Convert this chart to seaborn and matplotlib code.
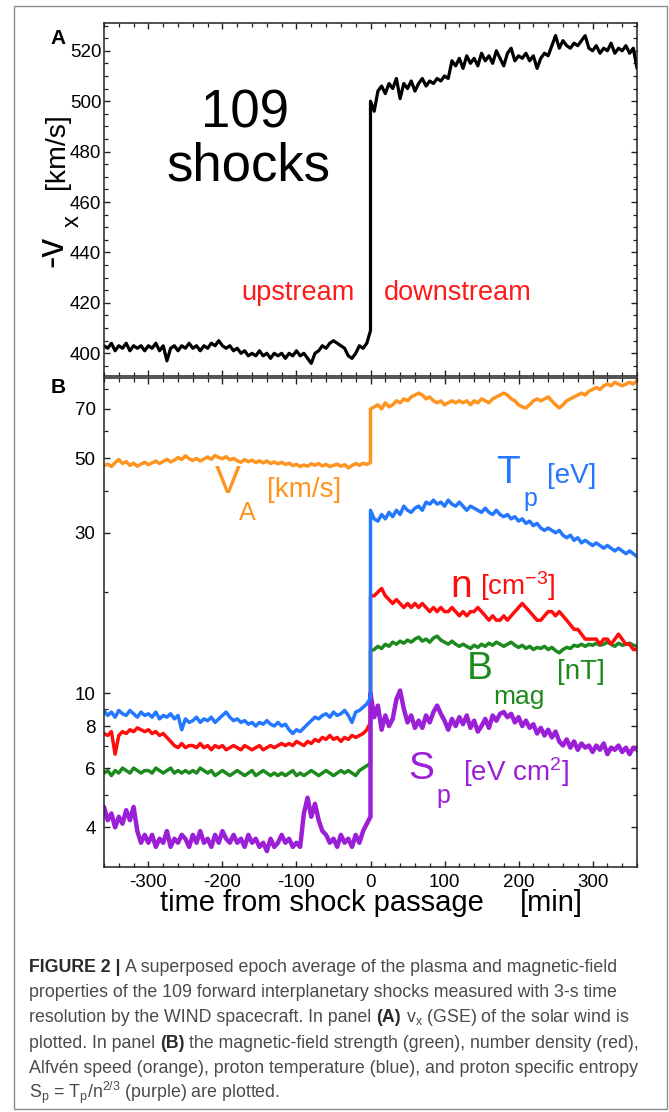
import numpy as np
import pandas as pd
import matplotlib
matplotlib.use("Agg")
import matplotlib.pyplot as plt
from matplotlib.patches import Rectangle
from matplotlib.ticker import MultipleLocator, FixedLocator, FixedFormatter, NullFormatter
import seaborn as sns

sns.set_theme(style="ticks")
plt.rcParams["font.family"] = ["Liberation Sans", "DejaVu Sans"]
plt.rcParams["text.color"] = "black"
plt.rcParams["mathtext.fontset"] = "custom"
plt.rcParams["mathtext.rm"] = "Liberation Sans"
plt.rcParams["mathtext.it"] = "Liberation Sans:italic"
plt.rcParams["mathtext.bf"] = "Liberation Sans:bold"
plt.rcParams["axes.unicode_minus"] = False

# -----------------------------
# time grid: 5-min samples upstream / downstream of the shock (t = 0)
# -----------------------------
t_up = np.arange(-360, 0, 5)
t_down = np.arange(5, 365, 5)

# panel A: -vx [km/s]
vx_up = [403, 402, 404, 401, 403, 402, 404, 401, 403, 402, 403, 401,
         403, 402, 404, 401, 403, 397, 402, 403, 401, 403, 402, 404,
         402, 403, 401, 403, 402, 404, 403, 405, 403, 402, 403, 401,
         402, 400, 401, 399, 400, 399, 401, 399, 400, 398, 400, 399,
         400, 398, 400, 399, 401, 399, 400, 398, 396, 400, 401, 403,
         402, 404, 405, 404, 403, 402, 399, 398, 400, 403, 402, 404]
vx_jump = [409, 500]
vx_down = [496, 504, 506, 503, 507, 505, 509, 501, 507, 505, 508, 504,
           507, 509, 506, 508, 507, 509, 508, 510, 509, 516, 514, 517,
           513, 518, 515, 517, 514, 519, 516, 518, 515, 520, 517, 514,
           519, 521, 516, 518, 517, 519, 516, 518, 513, 517, 519, 518,
           522, 526, 521, 524, 522, 521, 523, 522, 524, 526, 521, 520,
           522, 519, 521, 520, 523, 519, 521, 520, 522, 519, 521, 513]

# panel B: Alfven speed [km/s]
va_up = [47.5, 48.0, 47.2, 48.5, 49.5, 48.2, 48.8, 47.6, 48.3, 47.3, 48.0, 48.6,
         47.8, 48.4, 49.0, 48.2, 48.9, 49.6, 48.7, 49.3, 50.2, 49.5, 50.8, 49.8,
         49.2, 49.9, 49.0, 49.7, 50.4, 49.6, 50.9, 50.2, 49.8, 50.5, 49.4, 49.9,
         49.1, 48.6, 49.5, 48.8, 49.3, 48.5, 49.1, 48.4, 49.0, 48.2, 48.7, 48.1,
         48.6, 47.9, 48.3, 47.5, 47.9, 47.2, 47.7, 47.3, 48.1, 47.6, 48.2, 47.4,
         47.9, 47.2, 47.6, 48.0, 47.3, 47.8, 46.8, 47.5, 48.2, 47.6, 48.3, 47.9]
va_jump = [48.5, 70.0]
va_down = [71, 72, 70, 73, 71, 72, 74, 73, 75, 74, 76, 77,
           78, 77, 75, 76, 74, 73, 74, 72, 73, 74, 73, 74,
           73, 74, 72, 74, 73, 75, 74, 73, 75, 76, 77, 78,
           77, 75, 74, 72, 71, 70.5, 72, 74, 75, 74, 75, 76,
           74, 72, 70.5, 72, 74, 75, 76, 77, 78, 77, 79, 80,
           81, 80, 82, 83, 82, 84, 83, 82, 83, 84, 83, 85]

# proton temperature [eV]
tp_up = [8.9, 8.6, 8.8, 8.5, 8.9, 8.7, 8.6, 8.9, 8.7, 8.5, 8.8, 8.6,
         8.7, 8.5, 8.8, 8.4, 8.6, 8.5, 8.7, 8.4, 8.6, 7.8, 8.4, 8.2,
         8.3, 8.5, 8.2, 8.4, 8.3, 8.5, 8.2, 8.4, 8.6, 8.8, 8.5, 8.3,
         8.4, 8.2, 8.3, 8.1, 8.2, 8.0, 8.2, 8.1, 8.3, 8.1, 8.0, 8.2,
         8.0, 8.1, 7.8, 7.6, 7.8, 7.7, 7.9, 8.1, 8.3, 8.5, 8.4, 8.6,
         8.7, 8.5, 8.8, 8.6, 8.7, 8.9, 8.6, 8.2, 8.8, 8.9, 9.1, 9.3]
tp_jump = [9.7, 35.0]
tp_down = [33, 32.5, 34, 33, 34.5, 33.5, 35, 34, 36, 35, 34.5, 35.5,
           36, 35, 37, 36.5, 37.5, 36.5, 37, 36, 37.5, 36.5, 36, 37,
           36, 35, 36, 35.5, 35, 34.5, 35.5, 34.5, 34, 35, 34, 33.5,
           34, 33, 33.5, 32.5, 33, 32, 32.5, 31.5, 32, 31, 30.5, 31,
           30.5, 30, 30.5, 29.5, 29, 29.5, 28.5, 29, 28, 28.5, 28, 27.5,
           28, 27.5, 27, 27.5, 27, 26.5, 27, 26.5, 26, 26.5, 26, 25.5]

# number density [cm^-3]
n_up = [7.6, 7.5, 7.7, 6.6, 7.5, 7.7, 7.6, 7.8, 7.7, 7.9, 7.8, 7.7,
        7.8, 7.6, 7.7, 7.5, 7.6, 7.4, 7.2, 7.0, 6.9, 7.1, 6.9, 7.0,
        7.0, 6.9, 7.1, 6.9, 7.0, 6.8, 7.0, 6.9, 7.0, 6.8, 6.9, 7.0,
        6.9, 6.8, 7.0, 6.9, 6.8, 6.9, 7.0, 6.8, 6.9, 7.0, 6.9, 7.0,
        7.1, 7.0, 7.1, 7.0, 7.2, 7.1, 7.0, 7.2, 7.1, 7.3, 7.2, 7.4,
        7.3, 7.5, 7.3, 7.4, 7.2, 7.4, 7.3, 7.5, 7.4, 7.5, 7.6, 7.8]
n_jump = [8.2, 19.5]
n_down = [19.5, 20, 20.5, 19.5, 19, 18.5, 19, 18.5, 18, 18.5, 18, 18.5,
          18, 18.5, 18, 17.5, 18, 17.5, 18, 17.5, 17.5, 18, 17.5, 17,
          17.5, 17, 17.5, 17.5, 18, 17.5, 17, 16.5, 17, 16.5, 16.5, 17,
          16.5, 17, 17.5, 18, 18.5, 18, 17.5, 17, 16.5, 16.5, 17, 17.5,
          17.5, 17, 17.5, 17, 16.5, 16, 15.5, 15.5, 15, 14.5, 14.5, 14.5,
          14.5, 14, 14.5, 14.5, 14, 14.5, 15, 14.5, 14, 14, 13.5, 13.5]

# magnetic-field strength [nT]
b_up = [5.8, 5.9, 5.7, 5.9, 5.8, 6.0, 5.9, 5.8, 6.0, 5.9, 5.8, 5.9,
        5.9, 5.8, 6.0, 5.9, 5.8, 5.9, 6.0, 5.8, 5.9, 5.8, 5.9, 5.8,
        5.9, 5.8, 6.0, 5.9, 5.8, 5.9, 5.7, 5.8, 5.9, 5.8, 5.7, 5.8,
        5.9, 5.8, 5.7, 5.8, 5.9, 5.7, 5.8, 5.9, 5.8, 5.7, 5.8, 5.7,
        5.8, 5.7, 5.8, 5.9, 5.7, 5.8, 5.7, 5.8, 5.9, 5.8, 5.7, 5.8,
        5.9, 5.8, 5.7, 5.8, 5.9, 5.8, 5.9, 5.8, 5.7, 5.9, 6.0, 6.1]
b_jump = [6.2, 13.4]
b_down = [13.5, 13.8, 13.6, 14.0, 13.8, 14.2, 14.0, 14.3, 14.1, 14.4, 14.2, 14.5,
          14.7, 14.3, 14.5, 14.2, 14.6, 14.8, 14.4, 14.2, 14.0, 14.3, 14.0, 13.8,
          14.0, 13.8, 13.6, 13.9, 13.7, 14.0, 13.8, 14.1, 13.9, 14.2, 14.0, 13.8,
          14.0, 14.2, 13.9, 13.7, 13.9, 13.6, 13.8, 13.5, 13.7, 13.6, 13.8, 13.5,
          13.7, 13.4, 13.2, 13.5, 13.7, 13.6, 13.9, 13.8, 14.0, 13.8, 14.0, 13.9,
          14.1, 13.9, 14.0, 14.2, 14.0, 13.8, 14.1, 13.9, 14.0, 14.1, 13.9, 13.8]

# proton specific entropy [eV cm^2]
sp_up = [4.6, 4.2, 4.4, 4.0, 4.3, 4.1, 4.5, 4.2, 4.6, 3.9, 3.6, 3.8,
         3.6, 3.8, 3.5, 3.7, 3.6, 3.9, 3.5, 3.7, 3.6, 3.8, 3.7, 3.5,
         3.8, 3.6, 3.9, 3.6, 3.7, 3.5, 3.8, 3.6, 3.9, 3.7, 3.6, 3.8,
         3.6, 3.7, 3.5, 3.8, 3.6, 3.7, 3.5, 3.6, 3.4, 3.7, 3.5, 3.6,
         3.8, 3.6, 3.7, 3.5, 3.6, 3.5, 4.4, 4.9, 4.3, 4.7, 4.2, 3.9,
         3.8, 3.6, 3.7, 3.5, 3.8, 3.6, 3.7, 3.5, 3.8, 3.6, 3.9, 4.1]
sp_jump = [4.3, 10.0]
sp_down = [8.5, 9.2, 7.8, 8.6, 8.0, 8.4, 9.6, 10.2, 9.0, 8.2, 8.6, 7.9,
           8.3, 7.9, 8.6, 8.2, 8.8, 9.2, 8.7, 8.3, 7.8, 8.4, 8.0, 8.5,
           8.1, 8.6, 7.9, 8.3, 7.7, 8.0, 8.4, 7.9, 8.6, 8.3, 8.7, 8.8,
           8.5, 8.7, 8.2, 8.5, 8.0, 8.3, 7.9, 8.1, 7.6, 7.9, 7.5, 7.8,
           7.4, 7.7, 7.2, 7.0, 7.3, 6.9, 7.2, 6.8, 7.1, 6.9, 7.0, 6.7,
           7.0, 6.8, 7.1, 6.6, 6.9, 6.8, 7.0, 6.7, 6.9, 6.6, 6.9, 6.8]


def series(up, jump, down):
    t = np.concatenate([t_up, [0, 0], t_down])
    v = np.concatenate([up, jump, down])
    return pd.DataFrame({"t": t, "v": v})


W, H = 669, 1112
fig = plt.figure(figsize=(W / 100, H / 100), dpi=100)
ax_a = fig.add_axes([104 / W, 1 - 376 / H, 533 / W, 353 / H])
ax_b = fig.add_axes([104 / W, 1 - 867 / H, 533 / W, 489 / H])

# -----------------------------
# Panel A
# -----------------------------
sns.lineplot(data=series(vx_up, vx_jump, vx_down), x="t", y="v", ax=ax_a,
             estimator=None, sort=False, color="black", lw=2.3)
ax_a.set_ylim(391, 531)
ax_a.yaxis.set_major_locator(MultipleLocator(20))
ax_a.yaxis.set_minor_locator(MultipleLocator(5))
ax_a.tick_params(axis="y", pad=2)
ax_a.tick_params(labelbottom=False)

ax_a.text(-169, 489.6, "109", ha="center", va="baseline", fontsize=38)
ax_a.text(-165, 468.6, "shocks", ha="center", va="baseline", fontsize=38)
ax_a.text(-98, 421.1, "upstream", ha="center", va="baseline", fontsize=19.5, color="#ff1a1a")
ax_a.text(118, 421.1, "downstream", ha="center", va="baseline", fontsize=19.5, color="#ff1a1a")

# y label of panel A: big "-v", small subscript "x", units
ax_a.text(-0.088, 0.637, "[km/s]", transform=ax_a.transAxes, rotation=90,
          ha="center", va="center", fontsize=20.5)
ax_a.text(-0.096, 0.352, "-v", transform=ax_a.transAxes, rotation=90,
          ha="center", va="center", fontsize=27)
ax_a.text(-0.058, 0.44, "x", transform=ax_a.transAxes, rotation=90,
          ha="center", va="center", fontsize=17)
ax_a.text(-0.0863, 0.955, "A", transform=ax_a.transAxes, ha="center", va="center",
          fontsize=15, fontweight="bold")

# -----------------------------
# Panel B
# -----------------------------
c_va, c_tp, c_n, c_b, c_sp = "#ff9421", "#2478ff", "#ff0d0d", "#1d8a1d", "#9b1fd6"
for up, jump, down, col, lw in [(va_up, va_jump, va_down, c_va, 2.5),
                                (b_up, b_jump, b_down, c_b, 2.5),
                                (n_up, n_jump, n_down, c_n, 2.5),
                                (sp_up, sp_jump, sp_down, c_sp, 3.2),
                                (tp_up, tp_jump, tp_down, c_tp, 2.5)]:
    sns.lineplot(data=series(up, jump, down), x="t", y="v", ax=ax_b,
                 estimator=None, sort=False, color=col, lw=lw)

ax_b.set_yscale("log")
ax_b.set_ylim(3.05, 86.5)
ax_b.yaxis.set_major_locator(FixedLocator([4, 6, 8, 10, 30, 50, 70]))
ax_b.yaxis.set_major_formatter(FixedFormatter(["4", "6", "8", "10", "30", "50", "70"]))
ax_b.yaxis.set_minor_locator(FixedLocator([3, 5, 7, 9, 20, 40, 60, 80]))
ax_b.yaxis.set_minor_formatter(NullFormatter())
ax_b.tick_params(axis="y", pad=6)
ax_b.tick_params(axis="x", pad=5)

ax_b.text(-193, 39.4, "V", color=c_va, fontsize=28, ha="center", va="baseline")
ax_b.text(-166, 32.8, "A", color=c_va, fontsize=18, ha="center", va="baseline")
ax_b.text(-90, 38.4, "[km/s]", color=c_va, fontsize=20, ha="center", va="baseline")
ax_b.text(186, 42.2, "T", color=c_tp, fontsize=28, ha="center", va="baseline")
ax_b.text(216, 36.1, "p", color=c_tp, fontsize=18, ha="center", va="baseline")
ax_b.text(272, 42.2, "[eV]", color=c_tp, fontsize=20, ha="center", va="baseline")
ax_b.text(122, 19.4, "n", color=c_n, fontsize=28, ha="center", va="baseline")
ax_b.text(199, 19.6, r"[cm$^{\mathrm{-3}}$]", color=c_n, fontsize=20, ha="center", va="baseline")
ax_b.text(147, 11.0, "B", color=c_b, fontsize=28, ha="center", va="baseline")
ax_b.text(200, 9.33, "mag", color=c_b, fontsize=19, ha="center", va="baseline")
ax_b.text(284, 11.0, "[nT]", color=c_b, fontsize=20, ha="center", va="baseline")
ax_b.text(69, 5.55, "S", color=c_sp, fontsize=28, ha="center", va="baseline")
ax_b.text(99, 4.72, "p", color=c_sp, fontsize=18, ha="center", va="baseline")
ax_b.text(196, 5.48, r"[eV cm$^{\mathrm{2}}$]", color=c_sp, fontsize=20, ha="center", va="baseline")

ax_b.text(-0.0863, 0.9796, "B", transform=ax_b.transAxes, ha="center", va="center",
          fontsize=15, fontweight="bold")
ax_b.text(0.409, -0.090, "time from shock passage", transform=ax_b.transAxes,
          ha="center", va="baseline", fontsize=21)
ax_b.text(0.8386, -0.090, "[min]", transform=ax_b.transAxes,
          ha="center", va="baseline", fontsize=21)

# -----------------------------
# shared axis styling
# -----------------------------
for ax in (ax_a, ax_b):
    ax.set_xlim(-360, 360)
    ax.xaxis.set_major_locator(MultipleLocator(100))
    ax.xaxis.set_minor_locator(MultipleLocator(20))
    ax.set_xlabel("")
    ax.set_ylabel("")
    ax.tick_params(which="both", direction="in", top=True, right=True,
                   color="#222222", labelsize=13.5, labelcolor="black")
    ax.tick_params(which="major", length=4.5, width=1.0)
    ax.tick_params(which="minor", length=2.6, width=0.9)
    for s in ax.spines.values():
        s.set_linewidth(1.1)
        s.set_color("#222222")

# -----------------------------
# outer frame and caption
# -----------------------------
fig.patches.append(Rectangle((14 / W, 1 - 1109 / H), 653 / W, 1103 / H,
                             transform=fig.transFigure, fill=False,
                             ec="#8c8c8c", lw=1.0))

cap_family = ["Liberation Sans", "DejaVu Sans"]
cap_size = 12.8
cap_lines = [
    [("FIGURE 2 |", "bold"), ("A superposed epoch average of the plasma and magnetic-field", "normal")],
    [("properties of the 109 forward interplanetary shocks measured with 3-s time", "normal")],
    [("resolution by the WIND spacecraft. In panel", "normal"), ("(A)", "bold"),
     (r"v$_{\mathrm{x}}$ (GSE) of the solar wind is", "normal")],
    [("plotted. In panel", "normal"), ("(B)", "bold"),
     ("the magnetic-field strength (green), number density (red),", "normal")],
    [("Alfvén speed (orange), proton temperature (blue), and proton specific entropy", "normal")],
    [(r"S$_{\mathrm{p}}$ = T$_{\mathrm{p}}$/n$^{\mathrm{2/3}}$ (purple) are plotted.", "normal")],
]
cap_base = [972, 997, 1022.5, 1048, 1073, 1098]

renderer = fig.canvas.get_renderer()
probe1 = fig.text(0, 0, "x x", fontsize=cap_size, family=cap_family)
probe2 = fig.text(0, 0, "xx", fontsize=cap_size, family=cap_family)
space = (probe1.get_window_extent(renderer).width - probe2.get_window_extent(renderer).width)
probe1.remove()
probe2.remove()

for runs, yb in zip(cap_lines, cap_base):
    x = 29.0
    for s, weight in runs:
        col = "#2a2a2a" if weight == "bold" else "#4a4a4a"
        txt = fig.text(x / W, 1 - yb / H, s, fontsize=cap_size, fontweight=weight,
                       family=cap_family, color=col, va="baseline")
        x += txt.get_window_extent(renderer).width + space

fig.savefig("out.png", dpi=100)
